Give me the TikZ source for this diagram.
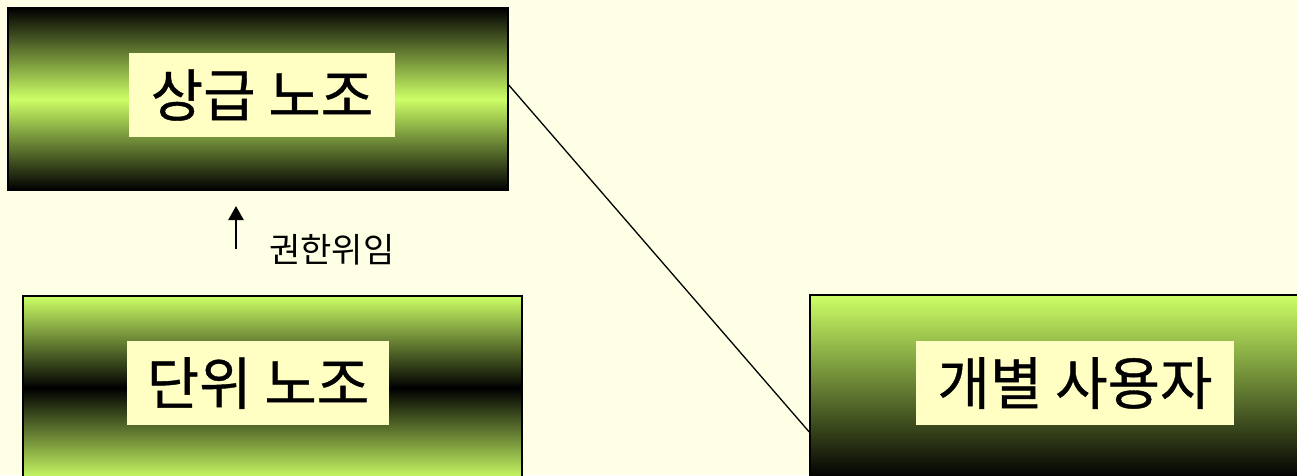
\documentclass[tikz,border=0pt]{standalone}
\usepackage{fontspec}
\newfontfamily\kr{Noto Sans CJK KR}
\newfontfamily\krb[FakeBold=0.7]{Noto Sans CJK KR}
\usetikzlibrary{arrows.meta}
\definecolor{bg}{HTML}{FFFFE6}
\definecolor{lab}{HTML}{FFFFC4}
\definecolor{lime}{HTML}{CCFF66}
\tikzset{
  box/.style={draw=black, line width=1.5pt, inner sep=0pt},
  lbl/.style={fill=lab, inner sep=0pt, font=\krb\fontsize{57}{57}\selectfont},
}
\begin{document}
\begin{tikzpicture}[x=1pt,y=-1pt]
\useasboundingbox (0,0) rectangle (1297,475);
\fill[bg] (0,0) rectangle (1297,475);
\clip (0,0) rectangle (1297,475);
\node[box, minimum width=500pt, minimum height=182pt, top color=black, bottom color=black, middle color=lime] (b1) at (258,99) {};
\node[box, minimum width=499pt, minimum height=184pt, top color=lime, bottom color=lime, middle color=black] (b2) at (272.5,388) {};
\node[box, minimum width=490pt, minimum height=183pt, top color=lime, bottom color=black] (b3) at (1055,386.5) {};
\node[lbl, minimum width=266pt, minimum height=84pt] (l1) at (262,95) {상급 노조};
\node[lbl, minimum width=262pt, minimum height=84pt] (l2) at (258,383) {단위 노조};
\node[lbl, minimum width=318pt, minimum height=84pt] (l3) at (1075,383) {개별 사용자};
\draw[line width=1.3pt] ([yshift=14pt]b1.east) -- ([yshift=-45.5pt]b3.west);
\coordinate (a0) at (236,249);
\coordinate (a1) at (236,206);
\draw[line width=2.5pt, -{Triangle[length=14pt,width=15pt]}] (a0) -- (a1);
\node[anchor=west, inner sep=0pt, font=\kr\fontsize{34}{34}\selectfont] (dl) at (269,250) {권한위임};
\end{tikzpicture}
\end{document}
